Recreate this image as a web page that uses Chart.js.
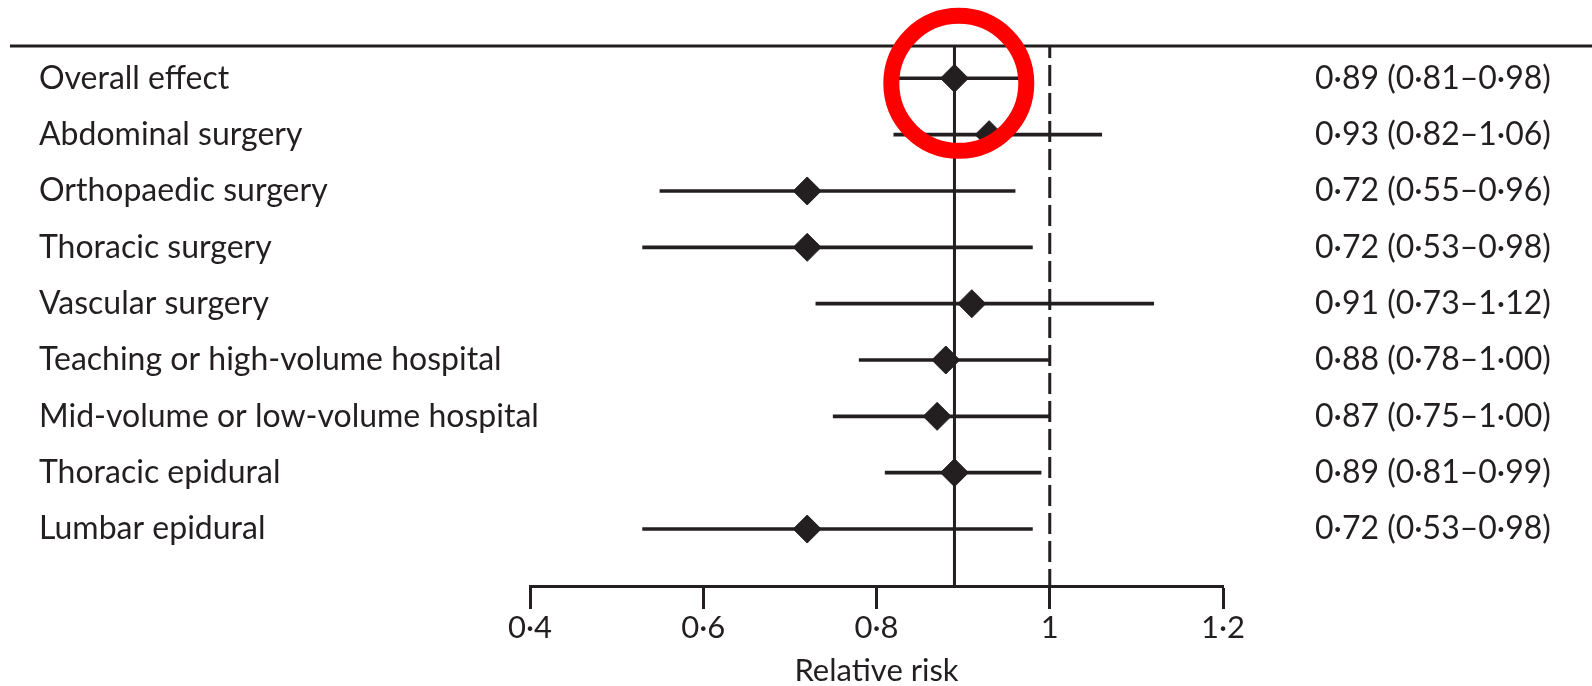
<!DOCTYPE html>
<html>
<head>
<meta charset="utf-8">
<script src="https://cdn.jsdelivr.net/npm/chart.js@4.4.0/dist/chart.umd.min.js"></script>
<style>
  html, body { margin: 0; padding: 0; background: #fff; }
</style>
</head>
<body>
<canvas id="forest" width="1592" height="686"></canvas>
<script>
// rows, top to bottom
const categories = [
  "Overall effect",
  "Abdominal surgery",
  "Orthopaedic surgery",
  "Thoracic surgery",
  "Vascular surgery",
  "Teaching or high-volume hospital",
  "Mid-volume or low-volume hospital",
  "Thoracic epidural",
  "Lumbar epidural"
];
const relativeRisk = [0.89, 0.93, 0.72, 0.72, 0.91, 0.88, 0.87, 0.89, 0.72];
const ciLower = [0.81, 0.82, 0.55, 0.53, 0.73, 0.78, 0.75, 0.81, 0.53];
const ciUpper = [0.98, 1.06, 0.96, 0.98, 1.12, 1.00, 1.00, 0.99, 0.98];
const ciLabels = [
  "0·89 (0·81–0·98)",
  "0·93 (0·82–1·06)",
  "0·72 (0·55–0·96)",
  "0·72 (0·53–0·98)",
  "0·91 (0·73–1·12)",
  "0·88 (0·78–1·00)",
  "0·87 (0·75–1·00)",
  "0·89 (0·81–0·99)",
  "0·72 (0·53–0·98)"
];
const xTicks = [0.4, 0.6, 0.8, 1, 1.2];
const xTickLabels = ["0·4", "0·6", "0·8", "1", "1·2"];
const overallRisk = 0.89;
const noEffect = 1;
// red ring someone drew round the overall estimate
const ringX = [0.895];
const ringRow = [0.09];

const ink = "#231f20";
const family = "Lato, 'Open Sans', sans-serif";
const rowMin = -0.573, rowMax = 9.011;

const rowTicks = s => { s.ticks = categories.map((c, i) => ({ value: i })); };
// fixed axis width, and no extra padding pushed onto the chart area
const fixWidth = w => s => {
  s.width = w;
  s.paddingTop = 0;
  s.paddingBottom = 0;
};

// top rule, line of overall effect, dashed line of no effect
const refLines = {
  id: "refLines",
  beforeDatasetsDraw(chart) {
    const { ctx, chartArea: a, scales: { x } } = chart;
    ctx.save();
    ctx.strokeStyle = ink;
    ctx.lineWidth = 3;
    ctx.beginPath();
    ctx.moveTo(10, a.top);
    ctx.lineTo(chart.width, a.top);
    ctx.stroke();

    const xo = x.getPixelForValue(overallRisk);
    ctx.beginPath();
    ctx.moveTo(xo, a.top);
    ctx.lineTo(xo, a.bottom);
    ctx.stroke();

    const x1 = x.getPixelForValue(noEffect);
    ctx.setLineDash([21, 7]);
    ctx.lineDashOffset = 10;
    ctx.beginPath();
    ctx.moveTo(x1, a.top + 1);
    ctx.lineTo(x1, a.bottom);
    ctx.stroke();
    ctx.restore();
  }
};

new Chart(document.getElementById("forest"), {
  type: "bar",
  data: {
    datasets: [
      {
        type: "scatter",
        data: ringX.map((v, i) => ({ x: v, y: ringRow[i] })),
        pointStyle: "circle",
        pointRadius: 67.5,
        pointBorderWidth: 16,
        pointBorderColor: "#ff0000",
        pointBackgroundColor: "rgba(0,0,0,0)",
        clip: false,
        yAxisID: "y",
        order: 0
      },
      {
        type: "scatter",
        data: relativeRisk.map((v, i) => ({ x: v, y: i })),
        pointStyle: "rectRot",
        pointRadius: 14,
        pointBorderWidth: 1,
        pointBackgroundColor: ink,
        pointBorderColor: ink,
        yAxisID: "y",
        order: 1
      },
      {
        type: "bar",
        indexAxis: "y",
        data: categories.map((c, i) => ({ x: [ciLower[i], ciUpper[i]], y: i })),
        backgroundColor: ink,
        borderWidth: 0,
        barThickness: 3,
        yAxisID: "y",
        order: 2
      }
    ]
  },
  options: {
    indexAxis: "y",
    responsive: false,
    animation: false,
    events: [],
    layout: { autoPadding: false, padding: { left: 39, top: 46, right: 0, bottom: 0 } },
    plugins: { legend: { display: false }, tooltip: { enabled: false } },
    scales: {
      x: {
        type: "linear",
        min: 0.4,
        max: 1.2,
        afterBuildTicks: s => { s.ticks = xTicks.map(v => ({ value: v })); },
        ticks: {
          callback: (v, i) => xTickLabels[i],
          color: ink,
          font: { family, size: 31 },
          padding: 0,
          maxRotation: 0,
          autoSkip: false
        },
        grid: { drawOnChartArea: false, drawTicks: true, tickLength: 23, tickWidth: 3, tickColor: ink },
        border: { display: true, width: 3, color: ink },
        title: {
          display: true,
          text: "Relative risk",
          color: ink,
          font: { family, size: 31, lineHeight: 1 },
          padding: 0
        },
        afterFit: s => {
          s.height = 100;
          s.paddingLeft = 0;
          s.paddingRight = 0;
        }
      },
      y: {
        type: "linear",
        position: "left",
        reverse: true,
        offset: false,
        min: rowMin,
        max: rowMax,
        afterBuildTicks: rowTicks,
        // mirrored so the long label is not clipped at the plot edge
        ticks: {
          callback: (v, i) => categories[i],
          mirror: true,
          padding: -491,
          color: ink,
          font: { family, size: 32 },
          autoSkip: false
        },
        grid: { display: false, drawTicks: false, offset: false },
        border: { display: false },
        afterFit: fixWidth(491)
      },
      y2: {
        type: "linear",
        axis: "y",
        position: "right",
        reverse: true,
        offset: false,
        min: rowMin,
        max: rowMax,
        afterBuildTicks: rowTicks,
        ticks: {
          callback: (v, i) => ciLabels[i],
          crossAlign: "near",
          padding: 92,
          color: ink,
          font: { family, size: 32 },
          autoSkip: false
        },
        grid: { display: false, drawTicks: false, offset: false },
        border: { display: false },
        afterFit: fixWidth(369)
      }
    }
  },
  plugins: [refLines]
});
</script>
</body>
</html>
